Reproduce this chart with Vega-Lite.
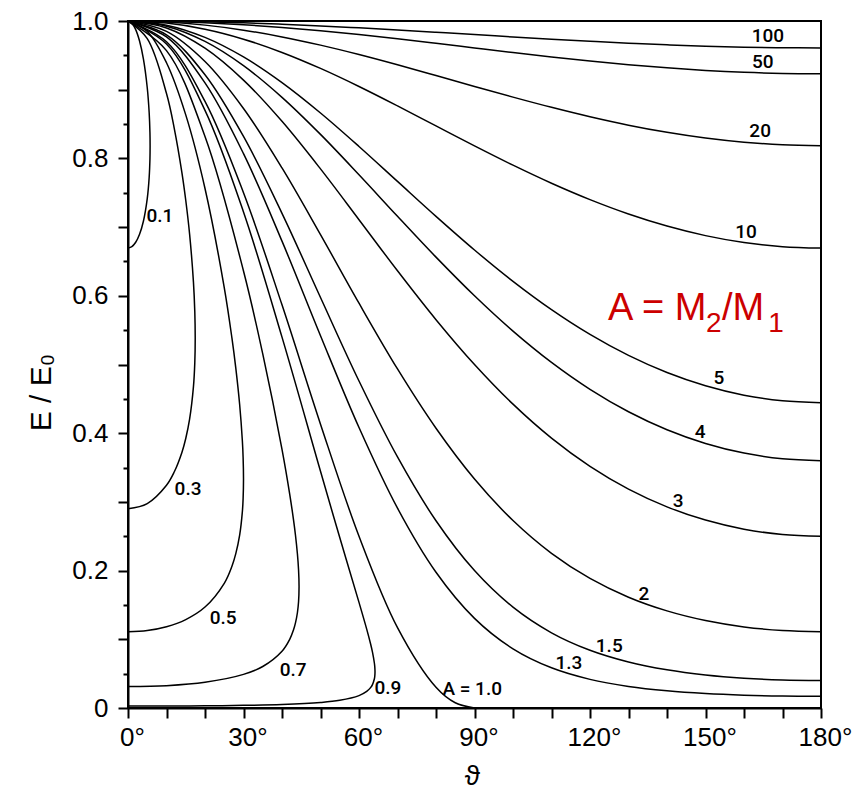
{
"$schema": "https://vega.github.io/schema/vega-lite/v6.json",
"width": 693, "height": 687,
"autosize": {"type": "none"},
"padding": {"left": 128, "top": 21, "right": 42, "bottom": 92},
"background": "white",
"config": {"font": "Liberation Sans", "view": {"stroke": "#000", "strokeWidth": 2}, "axis": {"labelOverlap": false}},
"datasets": {
"curves": [
{"A":"100","t":0,"k":1,"o":0},{"A":"100","t":10,"k":0.9997,"o":10},{"A":"100","t":20,"k":0.99879,"o":20},{"A":"100","t":30,"k":0.99732,"o":30},{"A":"100","t":40,"k":0.99533,"o":40},{"A":"100","t":50,"k":0.99288,"o":50},{"A":"100","t":60,"k":0.99005,"o":60},{"A":"100","t":70,"k":0.98693,"o":70},{"A":"100","t":80,"k":0.98361,"o":80},{"A":"100","t":90,"k":0.9802,"o":90},{"A":"100","t":100,"k":0.9768,"o":100},{"A":"100","t":110,"k":0.97352,"o":110},{"A":"100","t":120,"k":0.97044,"o":120},{"A":"100","t":130,"k":0.96768,"o":130},{"A":"100","t":140,"k":0.96529,"o":140},{"A":"100","t":150,"k":0.96337,"o":150},{"A":"100","t":160,"k":0.96195,"o":160},{"A":"100","t":170,"k":0.96108,"o":170},{"A":"100","t":180,"k":0.96079,"o":180},
{"A":"50","t":0,"k":1,"o":0},{"A":"50","t":10,"k":0.99939,"o":10},{"A":"50","t":20,"k":0.99759,"o":20},{"A":"50","t":30,"k":0.99466,"o":30},{"A":"50","t":40,"k":0.99069,"o":40},{"A":"50","t":50,"k":0.98581,"o":50},{"A":"50","t":60,"k":0.9802,"o":60},{"A":"50","t":70,"k":0.97402,"o":70},{"A":"50","t":80,"k":0.96748,"o":80},{"A":"50","t":90,"k":0.96078,"o":90},{"A":"50","t":100,"k":0.95413,"o":100},{"A":"50","t":110,"k":0.94773,"o":110},{"A":"50","t":120,"k":0.94176,"o":120},{"A":"50","t":130,"k":0.93639,"o":130},{"A":"50","t":140,"k":0.93179,"o":140},{"A":"50","t":150,"k":0.92807,"o":150},{"A":"50","t":160,"k":0.92534,"o":160},{"A":"50","t":170,"k":0.92367,"o":170},{"A":"50","t":180,"k":0.92311,"o":180},
{"A":"20","t":0,"k":1,"o":0},{"A":"20","t":10,"k":0.99848,"o":10},{"A":"20","t":20,"k":0.99399,"o":20},{"A":"20","t":30,"k":0.98669,"o":30},{"A":"20","t":40,"k":0.97687,"o":40},{"A":"20","t":50,"k":0.9649,"o":50},{"A":"20","t":60,"k":0.95121,"o":60},{"A":"20","t":70,"k":0.93628,"o":70},{"A":"20","t":80,"k":0.92063,"o":80},{"A":"20","t":90,"k":0.90476,"o":90},{"A":"20","t":100,"k":0.88917,"o":100},{"A":"20","t":110,"k":0.87431,"o":110},{"A":"20","t":120,"k":0.86059,"o":120},{"A":"20","t":130,"k":0.84838,"o":130},{"A":"20","t":140,"k":0.83798,"o":140},{"A":"20","t":150,"k":0.82964,"o":150},{"A":"20","t":160,"k":0.82355,"o":160},{"A":"20","t":170,"k":0.81984,"o":170},{"A":"20","t":180,"k":0.81859,"o":180},
{"A":"10","t":0,"k":1,"o":0},{"A":"10","t":10,"k":0.99697,"o":10},{"A":"10","t":20,"k":0.98801,"o":20},{"A":"10","t":30,"k":0.97355,"o":30},{"A":"10","t":40,"k":0.95424,"o":40},{"A":"10","t":50,"k":0.93095,"o":50},{"A":"10","t":60,"k":0.90465,"o":60},{"A":"10","t":70,"k":0.8764,"o":70},{"A":"10","t":80,"k":0.84724,"o":80},{"A":"10","t":90,"k":0.81818,"o":90},{"A":"10","t":100,"k":0.79012,"o":100},{"A":"10","t":110,"k":0.76383,"o":110},{"A":"10","t":120,"k":0.73998,"o":120},{"A":"10","t":130,"k":0.71908,"o":130},{"A":"10","t":140,"k":0.70153,"o":140},{"A":"10","t":150,"k":0.68761,"o":150},{"A":"10","t":160,"k":0.67755,"o":160},{"A":"10","t":170,"k":0.67146,"o":170},{"A":"10","t":180,"k":0.66942,"o":180},
{"A":"5","t":0,"k":1,"o":0},{"A":"5","t":10,"k":0.99394,"o":10},{"A":"5","t":20,"k":0.97614,"o":20},{"A":"5","t":30,"k":0.94769,"o":30},{"A":"5","t":40,"k":0.91029,"o":40},{"A":"5","t":50,"k":0.86607,"o":50},{"A":"5","t":60,"k":0.81735,"o":60},{"A":"5","t":70,"k":0.76648,"o":70},{"A":"5","t":80,"k":0.71563,"o":80},{"A":"5","t":90,"k":0.66667,"o":90},{"A":"5","t":100,"k":0.62105,"o":100},{"A":"5","t":110,"k":0.57985,"o":110},{"A":"5","t":120,"k":0.54377,"o":120},{"A":"5","t":130,"k":0.51318,"o":130},{"A":"5","t":140,"k":0.48825,"o":140},{"A":"5","t":150,"k":0.46898,"o":150},{"A":"5","t":160,"k":0.45531,"o":160},{"A":"5","t":170,"k":0.44715,"o":170},{"A":"5","t":180,"k":0.44444,"o":180},
{"A":"4","t":0,"k":1,"o":0},{"A":"4","t":10,"k":0.99243,"o":10},{"A":"4","t":20,"k":0.97024,"o":20},{"A":"4","t":30,"k":0.93496,"o":30},{"A":"4","t":40,"k":0.88889,"o":40},{"A":"4","t":50,"k":0.83494,"o":50},{"A":"4","t":60,"k":0.77621,"o":60},{"A":"4","t":70,"k":0.71574,"o":70},{"A":"4","t":80,"k":0.65627,"o":80},{"A":"4","t":90,"k":0.6,"o":90},{"A":"4","t":100,"k":0.54856,"o":100},{"A":"4","t":110,"k":0.50298,"o":110},{"A":"4","t":120,"k":0.4638,"o":120},{"A":"4","t":130,"k":0.43117,"o":130},{"A":"4","t":140,"k":0.405,"o":140},{"A":"4","t":150,"k":0.38504,"o":150},{"A":"4","t":160,"k":0.37104,"o":160},{"A":"4","t":170,"k":0.36275,"o":170},{"A":"4","t":180,"k":0.36,"o":180},
{"A":"3","t":0,"k":1,"o":0},{"A":"3","t":10,"k":0.98992,"o":10},{"A":"3","t":20,"k":0.96046,"o":20},{"A":"3","t":30,"k":0.91397,"o":30},{"A":"3","t":40,"k":0.85395,"o":40},{"A":"3","t":50,"k":0.7847,"o":50},{"A":"3","t":60,"k":0.71077,"o":60},{"A":"3","t":70,"k":0.63643,"o":70},{"A":"3","t":80,"k":0.56528,"o":80},{"A":"3","t":90,"k":0.5,"o":90},{"A":"3","t":100,"k":0.44226,"o":100},{"A":"3","t":110,"k":0.39282,"o":110},{"A":"3","t":120,"k":0.35173,"o":120},{"A":"3","t":130,"k":0.31859,"o":130},{"A":"3","t":140,"k":0.29276,"o":140},{"A":"3","t":150,"k":0.27353,"o":150},{"A":"3","t":160,"k":0.26029,"o":160},{"A":"3","t":170,"k":0.25255,"o":170},{"A":"3","t":180,"k":0.25,"o":180},
{"A":"2","t":0,"k":1,"o":0},{"A":"2","t":10,"k":0.9849,"o":10},{"A":"2","t":20,"k":0.94105,"o":20},{"A":"2","t":30,"k":0.87268,"o":30},{"A":"2","t":40,"k":0.78614,"o":40},{"A":"2","t":50,"k":0.68905,"o":50},{"A":"2","t":60,"k":0.5892,"o":60},{"A":"2","t":70,"k":0.49351,"o":70},{"A":"2","t":80,"k":0.40721,"o":80},{"A":"2","t":90,"k":0.33333,"o":90},{"A":"2","t":100,"k":0.27286,"o":100},{"A":"2","t":110,"k":0.22514,"o":110},{"A":"2","t":120,"k":0.18858,"o":120},{"A":"2","t":130,"k":0.16125,"o":130},{"A":"2","t":140,"k":0.14134,"o":140},{"A":"2","t":150,"k":0.12732,"o":150},{"A":"2","t":160,"k":0.11807,"o":160},{"A":"2","t":170,"k":0.11282,"o":170},{"A":"2","t":180,"k":0.11111,"o":180},
{"A":"1.5","t":0,"k":1,"o":0},{"A":"1.5","t":10,"k":0.97988,"o":10},{"A":"1.5","t":20,"k":0.92174,"o":20},{"A":"1.5","t":30,"k":0.83192,"o":30},{"A":"1.5","t":40,"k":0.72001,"o":40},{"A":"1.5","t":50,"k":0.59749,"o":50},{"A":"1.5","t":60,"k":0.47596,"o":60},{"A":"1.5","t":70,"k":0.3654,"o":70},{"A":"1.5","t":80,"k":0.27252,"o":80},{"A":"1.5","t":90,"k":0.2,"o":90},{"A":"1.5","t":100,"k":0.14678,"o":100},{"A":"1.5","t":110,"k":0.10947,"o":110},{"A":"1.5","t":120,"k":0.08404,"o":120},{"A":"1.5","t":130,"k":0.06695,"o":130},{"A":"1.5","t":140,"k":0.05556,"o":140},{"A":"1.5","t":150,"k":0.04808,"o":150},{"A":"1.5","t":160,"k":0.0434,"o":160},{"A":"1.5","t":170,"k":0.04082,"o":170},{"A":"1.5","t":180,"k":0.04,"o":180},
{"A":"1.3","t":0,"k":1,"o":0},{"A":"1.3","t":10,"k":0.9768,"o":10},{"A":"1.3","t":20,"k":0.90986,"o":20},{"A":"1.3","t":30,"k":0.8069,"o":30},{"A":"1.3","t":40,"k":0.67955,"o":40},{"A":"1.3","t":50,"k":0.5419,"o":50},{"A":"1.3","t":60,"k":0.40823,"o":60},{"A":"1.3","t":70,"k":0.29082,"o":70},{"A":"1.3","t":80,"k":0.19755,"o":80},{"A":"1.3","t":90,"k":0.13044,"o":90},{"A":"1.3","t":100,"k":0.08612,"o":100},{"A":"1.3","t":110,"k":0.0585,"o":110},{"A":"1.3","t":120,"k":0.04168,"o":120},{"A":"1.3","t":130,"k":0.0314,"o":130},{"A":"1.3","t":140,"k":0.02504,"o":140},{"A":"1.3","t":150,"k":0.02108,"o":150},{"A":"1.3","t":160,"k":0.0187,"o":160},{"A":"1.3","t":170,"k":0.01742,"o":170},{"A":"1.3","t":180,"k":0.01701,"o":180},
{"A":"1.0","t":0,"k":1,"o":0},{"A":"1.0","t":10,"k":0.96985,"o":10},{"A":"1.0","t":20,"k":0.88302,"o":20},{"A":"1.0","t":30,"k":0.75,"o":30},{"A":"1.0","t":40,"k":0.58682,"o":40},{"A":"1.0","t":50,"k":0.41318,"o":50},{"A":"1.0","t":60,"k":0.25,"o":60},{"A":"1.0","t":70,"k":0.11698,"o":70},{"A":"1.0","t":80,"k":0.03015,"o":80},{"A":"1.0","t":85,"k":0.0076,"o":85},{"A":"1.0","t":90,"k":0,"o":90},
{"A":"0.9","t":0,"k":1,"o":0},{"A":"0.9","t":10,"k":0.9665,"o":1},{"A":"0.9","t":20,"k":0.86997,"o":2},{"A":"0.9","t":30,"k":0.72193,"o":3},{"A":"0.9","t":40,"k":0.53982,"o":4},{"A":"0.9","t":50,"k":0.34451,"o":5},{"A":"0.9","t":55,"k":0.2481,"o":6},{"A":"0.9","t":60,"k":0.15373,"o":7},{"A":"0.9","t":62,"k":0.11483,"o":8},{"A":"0.9","t":63,"k":0.09348,"o":9},{"A":"0.9","t":63.5,"k":0.08124,"o":10},{"A":"0.9","t":64,"k":0.06514,"o":11},{"A":"0.9","t":64.1,"k":0.0599,"o":12},{"A":"0.9","t":64.158,"k":0.05263,"o":13},{"A":"0.9","t":64.1,"k":0.04625,"o":14},{"A":"0.9","t":64,"k":0.04252,"o":15},{"A":"0.9","t":63.5,"k":0.0341,"o":16},{"A":"0.9","t":63,"k":0.02963,"o":17},{"A":"0.9","t":62,"k":0.02412,"o":18},{"A":"0.9","t":60,"k":0.01802,"o":19},{"A":"0.9","t":55,"k":0.01117,"o":20},{"A":"0.9","t":50,"k":0.00804,"o":21},{"A":"0.9","t":40,"k":0.00513,"o":22},{"A":"0.9","t":30,"k":0.00384,"o":23},{"A":"0.9","t":20,"k":0.00318,"o":24},{"A":"0.9","t":10,"k":0.00287,"o":25},{"A":"0.9","t":0,"k":0.00277,"o":26},
{"A":"0.7","t":0,"k":1,"o":0},{"A":"0.7","t":10,"k":0.95686,"o":1},{"A":"0.7","t":20,"k":0.83179,"o":2},{"A":"0.7","t":30,"k":0.63617,"o":3},{"A":"0.7","t":35,"k":0.51537,"o":4},{"A":"0.7","t":40,"k":0.37657,"o":5},{"A":"0.7","t":42,"k":0.31145,"o":6},{"A":"0.7","t":43,"k":0.27352,"o":7},{"A":"0.7","t":43.5,"k":0.25149,"o":8},{"A":"0.7","t":44,"k":0.22459,"o":9},{"A":"0.7","t":44.3,"k":0.20133,"o":10},{"A":"0.7","t":44.427,"k":0.17647,"o":11},{"A":"0.7","t":44.3,"k":0.15468,"o":12},{"A":"0.7","t":44,"k":0.13866,"o":13},{"A":"0.7","t":43.5,"k":0.12383,"o":14},{"A":"0.7","t":43,"k":0.11386,"o":15},{"A":"0.7","t":42,"k":0.09999,"o":16},{"A":"0.7","t":40,"k":0.0827,"o":17},{"A":"0.7","t":35,"k":0.06043,"o":18},{"A":"0.7","t":30,"k":0.04895,"o":19},{"A":"0.7","t":20,"k":0.03744,"o":20},{"A":"0.7","t":10,"k":0.03255,"o":21},{"A":"0.7","t":0,"k":0.03114,"o":22},
{"A":"0.5","t":0,"k":1,"o":0},{"A":"0.5","t":5,"k":0.98478,"o":1},{"A":"0.5","t":10,"k":0.9392,"o":2},{"A":"0.5","t":15,"k":0.86332,"o":3},{"A":"0.5","t":20,"k":0.75622,"o":4},{"A":"0.5","t":25,"k":0.61205,"o":5},{"A":"0.5","t":27,"k":0.53828,"o":6},{"A":"0.5","t":28,"k":0.49466,"o":7},{"A":"0.5","t":29,"k":0.44172,"o":8},{"A":"0.5","t":29.7,"k":0.38926,"o":9},{"A":"0.5","t":29.9,"k":0.36462,"o":10},{"A":"0.5","t":30,"k":0.33333,"o":11},{"A":"0.5","t":29.9,"k":0.30473,"o":12},{"A":"0.5","t":29.7,"k":0.28544,"o":13},{"A":"0.5","t":29,"k":0.25154,"o":14},{"A":"0.5","t":28,"k":0.22462,"o":15},{"A":"0.5","t":27,"k":0.20642,"o":16},{"A":"0.5","t":25,"k":0.18154,"o":17},{"A":"0.5","t":20,"k":0.14693,"o":18},{"A":"0.5","t":15,"k":0.1287,"o":19},{"A":"0.5","t":10,"k":0.11831,"o":20},{"A":"0.5","t":5,"k":0.11283,"o":21},{"A":"0.5","t":0,"k":0.11111,"o":22},
{"A":"0.3","t":0,"k":1,"o":0},{"A":"0.3","t":5,"k":0.97441,"o":1},{"A":"0.3","t":10,"k":0.8944,"o":2},{"A":"0.3","t":12,"k":0.84416,"o":3},{"A":"0.3","t":14,"k":0.77942,"o":4},{"A":"0.3","t":15,"k":0.73911,"o":5},{"A":"0.3","t":16,"k":0.68978,"o":6},{"A":"0.3","t":17,"k":0.61989,"o":7},{"A":"0.3","t":17.35,"k":0.57671,"o":8},{"A":"0.3","t":17.4576,"k":0.53846,"o":9},{"A":"0.3","t":17.35,"k":0.50275,"o":10},{"A":"0.3","t":17,"k":0.46773,"o":11},{"A":"0.3","t":16,"k":0.42034,"o":12},{"A":"0.3","t":15,"k":0.39229,"o":13},{"A":"0.3","t":14,"k":0.37199,"o":14},{"A":"0.3","t":12,"k":0.34347,"o":15},{"A":"0.3","t":10,"k":0.32418,"o":16},{"A":"0.3","t":5,"k":0.29756,"o":17},{"A":"0.3","t":0,"k":0.28994,"o":18},
{"A":"0.1","t":0,"k":1,"o":0},{"A":"0.1","t":1,"k":0.99694,"o":1},{"A":"0.1","t":2,"k":0.9875,"o":2},{"A":"0.1","t":3,"k":0.97084,"o":3},{"A":"0.1","t":4,"k":0.94481,"o":4},{"A":"0.1","t":5,"k":0.90289,"o":5},{"A":"0.1","t":5.5,"k":0.86647,"o":6},{"A":"0.1","t":5.7,"k":0.83759,"o":7},{"A":"0.1","t":5.7392,"k":0.81818,"o":8},{"A":"0.1","t":5.7,"k":0.79923,"o":9},{"A":"0.1","t":5.5,"k":0.77259,"o":10},{"A":"0.1","t":5,"k":0.74142,"o":11},{"A":"0.1","t":4,"k":0.70852,"o":12},{"A":"0.1","t":3,"k":0.68953,"o":13},{"A":"0.1","t":2,"k":0.6779,"o":14},{"A":"0.1","t":1,"k":0.67148,"o":15},{"A":"0.1","t":0,"k":0.66942,"o":16}
],
"labels": [
{"lab":"100","t":166.2,"k":0.978},{"lab":"50","t":164.9,"k":0.94},{"lab":"20","t":164.2,"k":0.84},{"lab":"10","t":160.5,"k":0.693},{"lab":"5","t":153.5,"k":0.48},{"lab":"4","t":148.6,"k":0.402},{"lab":"3","t":142.9,"k":0.301},{"lab":"2","t":134.0,"k":0.166},{"lab":"1.5","t":125.0,"k":0.09},{"lab":"1.3","t":114.5,"k":0.066},{"lab":"A = 1.0","t":89.4,"k":0.028},{"lab":"0.9","t":67.5,"k":0.029},{"lab":"0.7","t":42.9,"k":0.055},{"lab":"0.5","t":24.7,"k":0.131},{"lab":"0.3","t":15.6,"k":0.319},{"lab":"0.1","t":8.3,"k":0.716}
],
"redmain": [{"s":"A = M","t":124.7,"k":0.5648},{"s":"/M","t":154.3,"k":0.5648}],
"redsub": [{"s":"2","t":150.1,"k":0.5473},{"s":"1","t":166.3,"k":0.5473}]
},
"encoding": {
  "x": {"field": "t", "type": "quantitative", "scale": {"domain": [0, 180], "nice": false, "zero": false},
   "axis": {"values": [0,10,20,30,40,50,60,70,80,90,100,110,120,130,140,150,160,170,180],
    "labelExpr": "datum.value % 30 == 0 ? datum.value + '°' : ''",
    "grid": false, "tickSize": 10, "tickWidth": 2, "tickColor": "#000", "domainColor": "#000", "domainWidth": 2,
    "labelFontSize": 26, "labelColor": "#000", "labelPadding": 6, "labelOffset": 4, "labelFlush": false, "labelOverlap": false, "labelBound": false,
    "title": "ϑ", "titleFontSize": 28, "titleFontWeight": "normal", "titleColor": "#000",
    "titleX": 344, "titleY": 68, "titleAlign": "center", "titleBaseline": "middle"}},
  "y": {"field": "k", "type": "quantitative", "scale": {"domain": [0, 1], "nice": false, "zero": false},
   "axis": {"values": [0,0.05,0.1,0.15,0.2,0.25,0.3,0.35,0.4,0.45,0.5,0.55,0.6,0.65,0.7,0.75,0.8,0.85,0.9,0.95,1],
    "labelExpr": "datum.value == 0 ? '0' : (abs(datum.value*5 - round(datum.value*5)) < 0.001 ? format(datum.value, '.1f') : '')",
    "grid": false,
    "tickSize": {"condition": {"test": "abs(datum.value*10 - round(datum.value*10)) < 0.001", "value": 10}, "value": 5},
    "tickWidth": 2, "tickColor": "#000", "domainColor": "#000", "domainWidth": 2,
    "labelFontSize": 26, "labelColor": "#000", "labelPadding": 10, "labelFlush": false, "labelOverlap": false, "labelBound": false,
    "title": "E / E₀", "titleFontSize": 30, "titleFontWeight": "normal", "titleColor": "#000",
    "titleAngle": 270, "titleX": -87, "titleY": 371, "titleAlign": "center", "titleBaseline": "middle"}}
},
"layer": [
{"data": {"name": "curves"},
 "mark": {"type": "line", "interpolate": "catmull-rom", "color": "#000", "strokeWidth": 1.5, "clip": true},
 "encoding": {
  "detail": {"field": "A"},
  "order": {"field": "o", "type": "quantitative"}
 }},
{"data": {"name": "labels"},
 "mark": {"type": "text", "font": "Roboto", "fontWeight": 500, "fontSize": 19, "color": "#000", "align": "center", "baseline": "middle"},
 "encoding": {"text": {"field": "lab"}}},
{"data": {"name": "redmain"},
 "mark": {"type": "text", "font": "Liberation Sans", "fontSize": 38, "color": "#cc0000", "align": "left", "baseline": "alphabetic"},
 "encoding": {"text": {"field": "s"}}},
{"data": {"name": "redsub"},
 "mark": {"type": "text", "font": "Liberation Sans", "fontSize": 28, "color": "#cc0000", "align": "left", "baseline": "alphabetic"},
 "encoding": {"text": {"field": "s"}}}
]
}
